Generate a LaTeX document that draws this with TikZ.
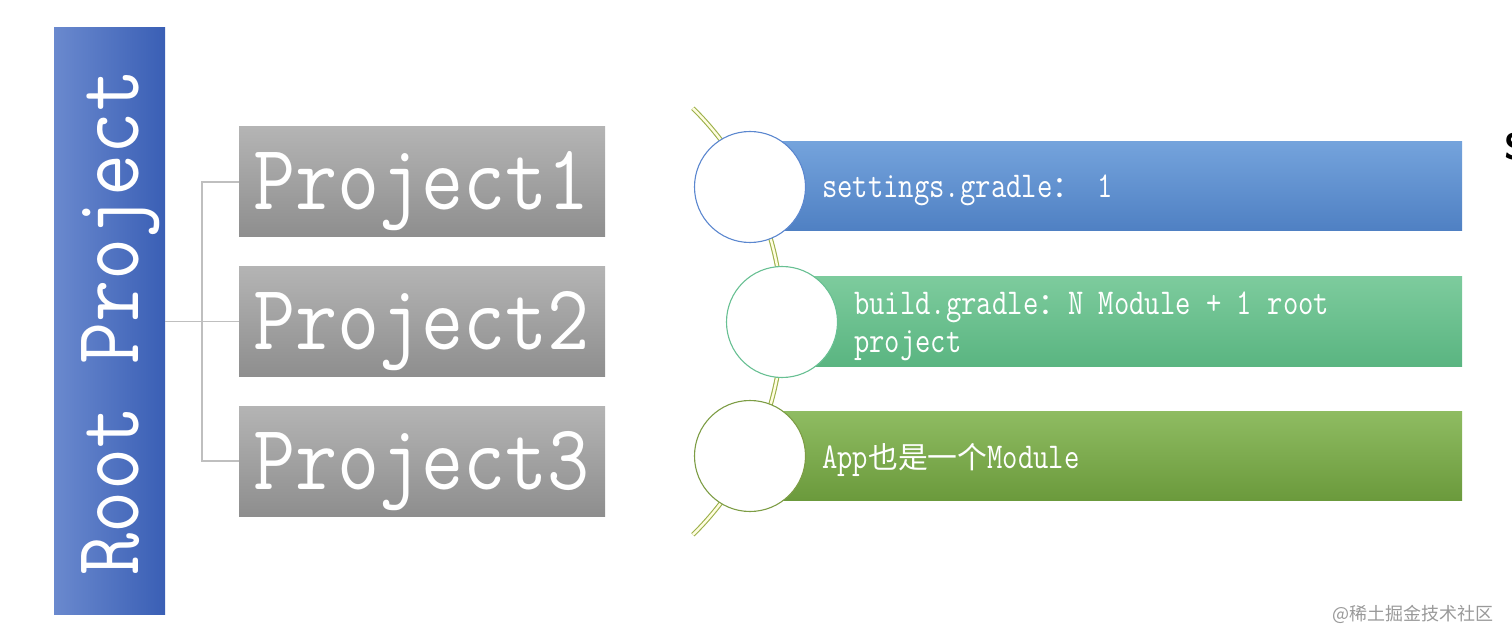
\documentclass[tikz,border=0pt]{standalone}
\usepackage{fontspec}
\newfontfamily\cjk{Noto Sans CJK SC}
\definecolor{rootL}{HTML}{6A89CE}
\definecolor{rootR}{HTML}{3A5FB5}
\definecolor{grayT}{HTML}{B4B4B4}
\definecolor{grayB}{HTML}{8E8E8E}
\definecolor{connc}{HTML}{BFBFBF}
\definecolor{blueT}{HTML}{74A3DC}
\definecolor{blueB}{HTML}{4F80C3}
\definecolor{greenT}{HTML}{7DCB9D}
\definecolor{greenB}{HTML}{5AB581}
\definecolor{oliveT}{HTML}{8FBC62}
\definecolor{oliveB}{HTML}{6B9A3C}
\definecolor{blueS}{HTML}{5B87CF}
\definecolor{greenS}{HTML}{68C093}
\definecolor{oliveS}{HTML}{7D9D45}
\definecolor{arcc}{HTML}{9CB04A}
\newcommand\ysc[1]{\scalebox{1.035}[1.18]{#1}}
\newcommand\ysm[1]{\scalebox{1}[1.22]{#1}}
\begin{document}
\begin{tikzpicture}[x=1pt,y=-1pt,
  rootbox/.style={draw=none,left color=rootL,right color=rootR,minimum width=111pt,minimum height=586pt,inner sep=0},
  projbox/.style={draw=none,top color=grayT,bottom color=grayB,minimum width=366pt,minimum height=110pt,inner sep=0},
  bigtxt/.style={text=white,inner sep=0,font=\ttfamily\fontsize{79}{79}\selectfont},
  smalltxt/.style={text=white,inner sep=0,anchor=base west,font=\ttfamily\fontsize{29.8}{29.8}\selectfont},
  conn/.style={draw=connc,line width=1.3pt},
  bar/.style={draw=none,minimum height=89pt,inner sep=0},
  bubble/.style={circle,fill=white,line width=1.1pt,minimum size=111pt,inner sep=0},
  arcline/.style={draw=arcc,line width=1.1pt,double=white!88!yellow,double distance=2.4pt}
]
\useasboundingbox (0,0) rectangle (1512,644);

% left tree
\node[rootbox] (root) at (109.5,321) {};
\node[bigtxt,rotate=90,anchor=base] (roottxt) at (138,322.5) {\ysc{Root Project}};
\node[projbox] (p1) at (422,182) {};
\node[projbox] (p2) at (422,321.5) {};
\node[projbox] (p3) at (422,461) {};
\node[bigtxt,anchor=base west] (t1) at (253,210) {\ysc{Project1}};
\node[bigtxt,anchor=base west] (t2) at (253,349.5) {\ysc{Project2}};
\node[bigtxt,anchor=base west] (t3) at (253,489) {\ysc{Project3}};
\coordinate (jn) at (202,321.5);
\draw[conn] (root.east |- jn) -- (p2.west);
\draw[conn] (p1.west) -| (jn) |- (p3.west);

% right list
\draw[arcline] (483.3,321.5) ++(-45.5:299) arc[start angle=-45.5,end angle=45.5,radius=299];
\node[bar,top color=blueT,bottom color=blueB,minimum width=712pt] (b1) at (1106,186.5) {};
\node[bar,top color=greenT,bottom color=greenB,minimum width=680pt] (b2) at (1122,321.5) {};
\node[bar,top color=oliveT,bottom color=oliveB,minimum width=712pt] (b3) at (1106,455.5) {};
\node[bubble,draw=blueS] (c1) at (750,187) {};
\node[bubble,draw=greenS] (c2) at (782,322) {};
\node[bubble,draw=oliveS] (c3) at (750,456) {};
\node[smalltxt] (s1) at (822,198) {\ysm{settings.gradle}{\cjk ：}\ysm{ 1}};
\node[smalltxt] (s2) at (854,314) {\ysm{build.gradle}{\cjk ：}\ysm{N Module + 1 root}};
\node[smalltxt] (s2b) at (854,352) {\ysm{project}};
\node[smalltxt] (s3) at (822,468) {\ysm{App}{\cjk 也是一个}\ysm{Module}};

% edge fragment and watermark
\node[anchor=base west,inner sep=0,font=\sffamily\bfseries\fontsize{37}{37}\selectfont] (frag) at (1504,160) {S};
\node[anchor=east,inner sep=0,text=black!40,font=\cjk\fontsize{18}{18}\selectfont] (wm) at (1494,614) {@稀土掘金技术社区};
\end{tikzpicture}
\end{document}
